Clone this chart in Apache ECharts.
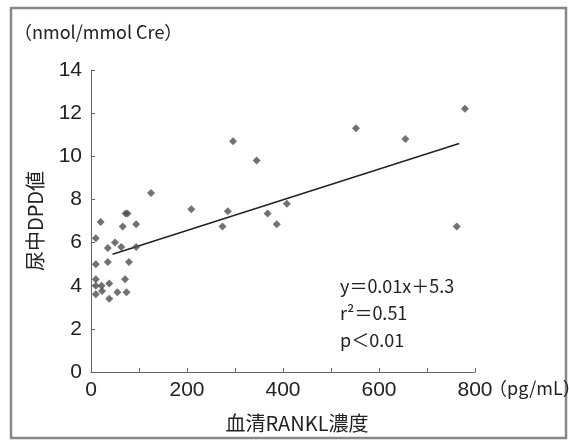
<!DOCTYPE html>
<html>
<head>
<meta charset="utf-8">
<script src="https://cdn.jsdelivr.net/npm/echarts@6/dist/echarts.min.js"></script>
<style>
  html, body { margin: 0; padding: 0; background: #fff; }
  #chart { width: 569px; height: 441px; }
</style>
</head>
<body>
<div id="chart"></div>
<script>
// serum RANKL (pg/mL) vs urinary DPD (nmol/mmol Cre)
const rankl = [10, 20, 10, 10, 10, 10, 22, 23, 35, 35, 38, 38, 50, 55, 63, 66, 71, 72,
  76, 74, 79, 94, 94, 125, 209, 274, 285, 296, 345, 368, 387, 408, 552, 655, 762, 779]
const dpd = [6.2, 6.95, 5.0, 4.3, 4.0, 3.6, 4.0, 3.75, 5.1, 5.75, 4.1, 3.4, 6.0, 3.7, 5.8, 6.75, 4.3, 7.35,
  7.35, 3.7, 5.1, 6.85, 5.8, 8.3, 7.55, 6.75, 7.45, 10.7, 9.8, 7.35, 6.85, 7.8, 11.3, 10.8, 6.75, 12.2]

// regression line end points as drawn
const fitX = [45, 767]
const fitY = [5.46, 10.59]

const xTicks = [0, 200, 400, 600, 800]
const statsText = ['y＝0.01x＋5.3', 'r²＝0.51', 'p＜0.01']

const numFont = "'Liberation Sans Narrow', 'Liberation Sans', Arial, sans-serif"
const jpFont = "'Noto Sans CJK JP', 'Liberation Sans', sans-serif"
const textColor = '#222'

const chart = echarts.init(document.getElementById('chart'))

const option = {
  animation: false,
  grid: { left: 91, right: 94, top: 70, bottom: 69 },
  xAxis: {
    type: 'value',
    min: 0,
    max: 800,
    interval: 100,
    name: '血清RANKL濃度',
    nameLocation: 'middle',
    nameGap: 41,
    nameTextStyle: { fontFamily: jpFont, fontSize: 20, color: textColor, padding: [0, 0, 0, 28] },
    axisLine: { lineStyle: { color: '#666', width: 1 } },
    axisTick: { inside: true, length: 4, lineStyle: { color: '#666' } },
    axisLabel: {
      fontFamily: numFont,
      fontSize: 21,
      color: textColor,
      margin: 8,
      formatter: (v) => (xTicks.includes(v) ? String(v) : ''),
    },
    splitLine: { show: false },
  },
  yAxis: {
    type: 'value',
    min: 0,
    max: 14,
    interval: 2,
    name: '尿中DPD値',
    nameLocation: 'middle',
    nameRotate: 90,
    nameGap: 46,
    nameTextStyle: { fontFamily: jpFont, fontSize: 20, color: textColor },
    axisLine: { show: true, lineStyle: { color: '#666', width: 1 } },
    axisTick: { show: true, inside: true, length: 4, lineStyle: { color: '#666' } },
    axisLabel: { fontFamily: numFont, fontSize: 21, color: textColor, margin: 9 },
    splitLine: { show: false },
  },
  series: [
    {
      type: 'scatter',
      symbol: 'diamond',
      symbolSize: 8,
      itemStyle: { color: '#4d4d4d' },
      data: rankl.map((x, i) => [x, dpd[i]]),
      z: 3,
    },
    {
      type: 'line',
      symbol: 'none',
      lineStyle: { color: '#222', width: 1.5 },
      data: fitX.map((x, i) => [x, fitY[i]]),
      z: 2,
    },
  ],
  graphic: [
    {
      type: 'rect',
      shape: { x: 11, y: 8, width: 555, height: 430 },
      style: { fill: 'none', stroke: '#888', lineWidth: 2.5 },
      silent: true,
    },
    {
      type: 'text',
      left: 14,
      top: 23,
      style: { text: '（nmol/mmol Cre）', fontFamily: jpFont, fontSize: 18, fill: textColor },
    },
    {
      type: 'text',
      left: 489,
      top: 379,
      style: { text: '（pg/mL）', fontFamily: jpFont, fontSize: 18, fill: textColor },
    },
    ...statsText.map((t, i) => ({
      type: 'text',
      left: 340,
      top: 277 + i * 27,
      style: { text: t, fontFamily: jpFont, fontSize: 18, fill: textColor },
    })),
  ],
}

option && chart.setOption(option)
</script>
</body>
</html>
